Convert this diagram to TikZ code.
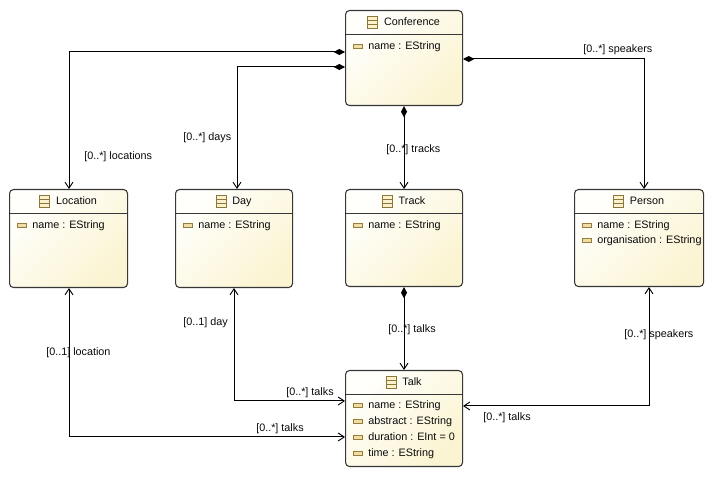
\documentclass[tikz,border=0pt]{standalone}
\usepackage{fontspec}
\setmainfont{Liberation Sans}
\usetikzlibrary{arrows.meta,calc}
\definecolor{boxline}{RGB}{55,55,55}
\definecolor{fillA}{RGB}{255,255,252}
\definecolor{fillB}{RGB}{251,244,210}
\definecolor{iconline}{RGB}{140,118,58}
\definecolor{iconfill}{RGB}{250,242,205}
\definecolor{attrline}{RGB}{150,125,60}
\definecolor{attrfill}{RGB}{238,222,165}
\definecolor{txt}{RGB}{10,10,10}

\tikzset{
  classbox/.style={draw=boxline, line width=0.8pt, rounded corners=3pt,
    top color=fillA, bottom color=fillB, shading angle=45,
    anchor=north west, inner sep=0pt},
  sepline/.style={draw=boxline, line width=0.75pt},
  hdr/.style={inner sep=0pt, text height=0.72em, text depth=0.2em, text=txt},
  attr/.style={inner sep=0pt, text height=0.72em, text depth=0.2em, text=txt, anchor=west},
  lbl/.style={inner sep=0pt, text height=0.72em, text depth=0.2em, text=txt, anchor=west},
  clsicon/.style={draw=iconline, fill=iconfill, line width=0.7pt},
  attricon/.style={draw=attrline, fill=attrfill, line width=0.6pt},
  conn/.style={draw=black, line width=0.75pt},
  comp/.style={conn, arrows={Diamond[length=8.5pt,width=4.5pt]-Straight Barb[length=4.5pt,width=6pt,line width=0.7pt]}},
  bidir/.style={conn, arrows={Straight Barb[length=4.5pt,width=6pt,line width=0.7pt]-Straight Barb[length=4.5pt,width=6pt,line width=0.7pt]}}
}

\newcommand\umlclass[6]{%
  \node[classbox, minimum width=#4*0.75pt, minimum height=#5*0.75pt] (#1) at (#2,#3) {};
  \draw[sepline] ($(#1.north west)+(0,25)$) -- ($(#1.north east)+(0,25)$);
  \node[hdr] (#1-title) at ($(#1.north)+(8,12.5)$) {#6};
  \draw[clsicon] ($(#1-title.west)+(-16,-6)$) rectangle ($(#1-title.west)+(-6,6)$);
  \draw[iconline, line width=0.6pt] ($(#1-title.west)+(-16,-2)$) -- ($(#1-title.west)+(-6,-2)$);
  \draw[iconline, line width=0.6pt] ($(#1-title.west)+(-16,2)$) -- ($(#1-title.west)+(-6,2)$);
}
\newcommand\umlattr[4]{%
  \node[attr] (#2) at ($(#1.north west)+(23,#3)$) {#4};
  \draw[attricon] ($(#2.west)+(-14.5,-2)$) rectangle ($(#2.west)+(-5.5,2)$);
}

\begin{document}
\begin{tikzpicture}[x=0.75pt, y=-0.75pt, font=\fontsize{8.1pt}{10pt}\selectfont]
\fill[white] (0,0) rectangle (719,477);
\useasboundingbox (0,0) rectangle (719,477);

% classes
\umlclass{conf}{345}{10}{117}{95}{Conference}
\umlattr{conf}{conf-a1}{36}{name : EString}

\umlclass{loc}{9}{189}{118}{98}{Location}
\umlattr{loc}{loc-a1}{36}{name : EString}

\umlclass{day}{175}{189}{117}{98}{Day}
\umlattr{day}{day-a1}{36}{name : EString}

\umlclass{track}{345}{189}{117}{97}{Track}
\umlattr{track}{track-a1}{36}{name : EString}

\umlclass{person}{574}{189}{129}{97}{Person}
\umlattr{person}{person-a1}{36}{name : EString}
\umlattr{person}{person-a2}{51.5}{organisation : EString}

\umlclass{talk}{345}{370}{117}{96}{Talk}
\umlattr{talk}{talk-a1}{35}{name : EString}
\umlattr{talk}{talk-a2}{51}{abstract : EString}
\umlattr{talk}{talk-a3}{67}{duration : EInt = 0}
\umlattr{talk}{talk-a4}{83}{time : EString}

% connectors
\draw[comp] ($(conf.north west)+(0,42)$) -| ($(loc.north west)+(60,0)$);
\draw[comp] ($(conf.north west)+(0,57)$) -| ($(day.north west)+(62,0)$);
\draw[comp] (conf.south) -- (track.north);
\draw[comp] ($(conf.north east)+(0,49)$) -| ($(person.north west)+(70,0)$);
\draw[comp] (track.south) -- (talk.north);
\draw[bidir] ($(day.south west)+(59,0)$) |- ($(talk.north west)+(0,31)$);
\draw[bidir] ($(loc.south west)+(60,0)$) |- ($(talk.north west)+(0,67)$);
\draw[bidir] ($(person.south west)+(75,0)$) |- ($(talk.north east)+(0,36)$);

% labels
\node[lbl] (l-locs) at (84,156) {[0..*] locations};
\node[lbl] (l-days) at (183,137) {[0..*] days};
\node[lbl] (l-tracks) at (386,149) {[0..*] tracks};
\node[lbl] (l-spk1) at (583,49) {[0..*] speakers};
\node[lbl] (l-talks1) at (388,329) {[0..*] talks};
\node[lbl] (l-day) at (183,322) {[0..1] day};
\node[lbl] (l-talks2) at (286,392) {[0..*] talks};
\node[lbl] (l-loc) at (46,352) {[0..1] location};
\node[lbl] (l-talks3) at (256,428) {[0..*] talks};
\node[lbl] (l-spk2) at (624,334) {[0..*] speakers};
\node[lbl] (l-talks4) at (483,417) {[0..*] talks};
\end{tikzpicture}
\end{document}
